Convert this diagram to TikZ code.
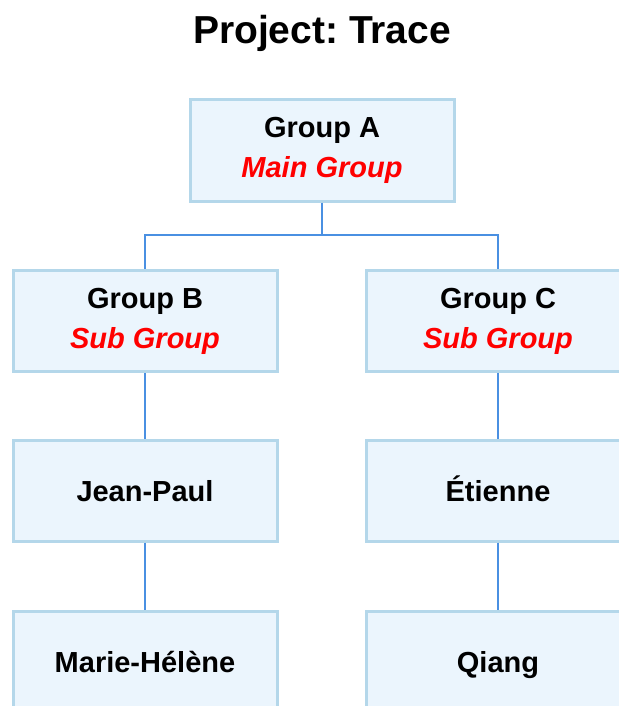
\documentclass[tikz,border=0pt]{standalone}
\usepackage{fontspec}
\setmainfont{Liberation Sans}
\usepackage{tikz}
\usetikzlibrary{calc}
\usepackage{xcolor}
\definecolor{boxfill}{RGB}{235,245,253}
\definecolor{boxline}{RGB}{180,215,234}
\definecolor{linkblue}{RGB}{74,144,226}
\definecolor{subred}{RGB}{255,0,0}
\frenchspacing

\begin{document}
\begin{tikzpicture}[x=1pt,y=-1pt,
    member/.style={rectangle,draw=boxline,line width=3pt,fill=boxfill,
      minimum width=264pt,minimum height=101pt,align=center,
      font=\fontsize{29}{40}\selectfont\bfseries},
    person/.style={member,text height=21pt,text depth=0pt},
    link/.style={draw=linkblue,line width=1.6pt}]
  \useasboundingbox (0,0) rectangle (618,706);
  \node[font=\fontsize{39}{44}\selectfont\bfseries] (title) at (322,33) {Project: Trace};
  % groups
  \node[member] (ga) at (322,150.5) {Group A\\{\itshape\color{subred}Main Group}};
  \node[member] (gb) at (145,321) {Group B\\{\itshape\color{subred}Sub Group}};
  \node[member] (gc) at (498,321) {Group C\\{\itshape\color{subred}Sub Group}};
  % people
  \node[person] (jp) at (145,490.5) {Jean-Paul};
  \node[person] (et) at (498,490.5) {Étienne};
  \node[person] (mh) at (145,661.5) {Marie-Hélène};
  \node[person] (qi) at (498,661.5) {Qiang};
  \coordinate (fork) at (322,235);
  \draw[link] (ga.south) -- (fork) -| (gb.north);
  \draw[link] (fork) -| (gc.north);
  \draw[link] (gb) -- (jp);
  \draw[link] (jp) -- (mh);
  \draw[link] (gc) -- (et);
  \draw[link] (et) -- (qi);
\end{tikzpicture}
\end{document}
